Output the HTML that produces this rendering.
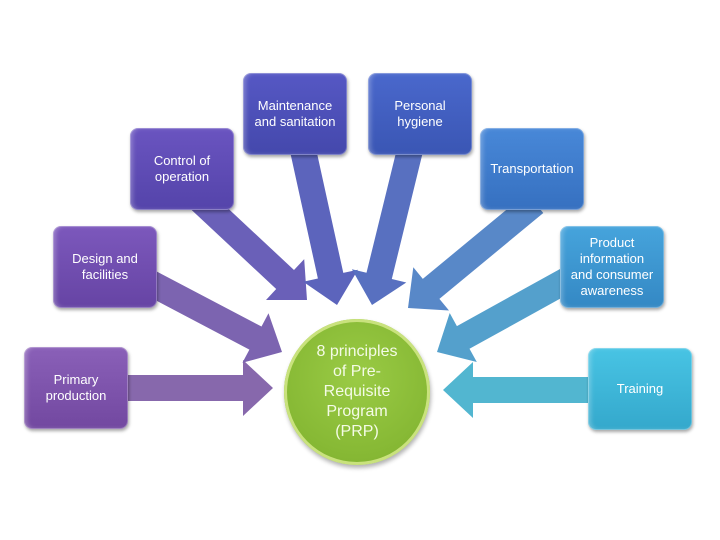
<!DOCTYPE html>
<html><head><meta charset="utf-8"><style>
html,body{margin:0;padding:0;background:#fff;width:720px;height:540px;overflow:hidden;font-family:"Liberation Sans",sans-serif}
.b{position:absolute;width:104px;height:82px;border-radius:8px;color:#fff;font-size:13px;line-height:16px;display:flex;align-items:center;justify-content:center;text-align:center;box-shadow:1px 2px 3px rgba(0,0,0,.35), inset 0 0 0 1px rgba(255,255,255,.25), inset 3px 0 4px rgba(255,255,255,.25);}
.c{position:absolute;left:284px;top:319px;width:146px;height:146px;border-radius:50%;background:radial-gradient(circle at 50% 40%,#9acb45,#86b834 70%,#7aa82c);box-shadow:inset 0 0 0 3px #c9e27d,1px 3px 4px rgba(0,0,0,.3);color:#f4fbe6;font-size:16px;line-height:20px;display:flex;align-items:center;justify-content:center;text-align:center}
svg{position:absolute;left:0;top:0}
</style></head><body>
<svg width="720" height="540" id="s"></svg>
<div class="b" style="left:24px;top:347px;background:linear-gradient(#8a60b8,#7248a0)">Primary<br>production</div>
<div class="b" style="left:53px;top:226px;background:linear-gradient(#7c58bc,#6644a4)">Design and<br>facilities</div>
<div class="b" style="left:130px;top:128px;background:linear-gradient(#6a54c0,#5444aa)">Control of<br>operation</div>
<div class="b" style="left:243px;top:73px;background:linear-gradient(#5658c4,#4448ac)">Maintenance<br>and sanitation</div>
<div class="b" style="left:368px;top:73px;background:linear-gradient(#4a68cc,#3a56b4)">Personal<br>hygiene</div>
<div class="b" style="left:480px;top:128px;background:linear-gradient(#4888d8,#3670c0)">Transportation</div>
<div class="b" style="left:560px;top:226px;background:linear-gradient(#46a4dc,#3488c4)">Product<br>information<br>and consumer<br>awareness</div>
<div class="b" style="left:588px;top:348px;background:linear-gradient(#48c4e4,#34a8cc)">Training</div>
<div class="c">8 principles<br>of Pre-<br>Requisite<br>Program<br>(PRP)</div>
<script>
var s=document.getElementById('s'),sw=13,hw=28,hl=30;
var a=[[120,388,273,388,'#8768ac'],[145,280,282,352,'#7c64b0'],[200,200,307,300,'#6a60b8'],[303,150,337,305,'#5c64bc'],[410,150,372,305,'#5870c0'],[535,203,408,308,'#5888c8'],[567,280,437,352,'#54a0cc'],[595,390,443,390,'#52b6d0']];
a.forEach(function(p){var dx=p[2]-p[0],dy=p[3]-p[1],L=Math.sqrt(dx*dx+dy*dy),ux=dx/L,uy=dy/L,nx=-uy,ny=ux;
var tx=p[2],ty=p[3],bx=tx-hl*ux,by=ty-hl*uy,sx=p[0],sy=p[1];
var pts=[[sx+nx*sw,sy+ny*sw],[bx+nx*sw,by+ny*sw],[bx+nx*hw,by+ny*hw],[tx,ty],[bx-nx*hw,by-ny*hw],[bx-nx*sw,by-ny*sw],[sx-nx*sw,sy-ny*sw]];
var pg=document.createElementNS('http://www.w3.org/2000/svg','polygon');
pg.setAttribute('points',pts.map(function(q){return q[0].toFixed(1)+','+q[1].toFixed(1)}).join(' '));
pg.setAttribute('fill',p[4]);s.appendChild(pg);});
</script>
</body></html>
